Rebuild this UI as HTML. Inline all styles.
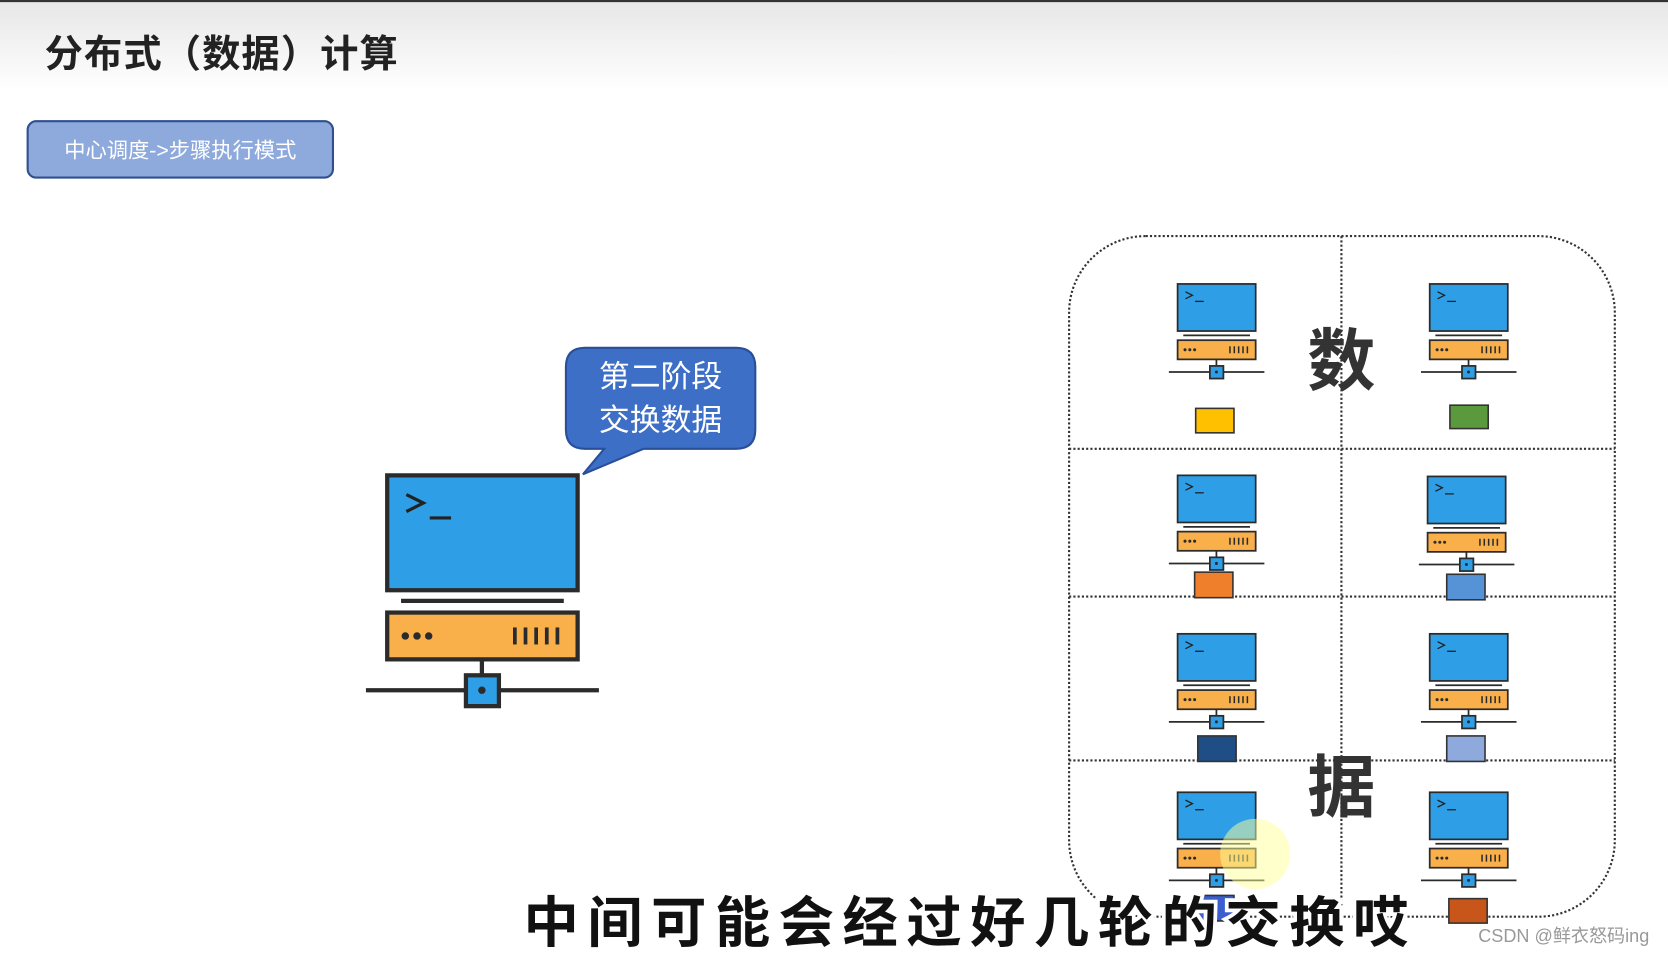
<!DOCTYPE html>
<html><head><meta charset="utf-8"><style>
html,body{margin:0;padding:0;background:#fff;}
svg{display:block;}
text{font-family:"Liberation Sans","Noto Sans CJK SC",sans-serif;}
</style></head><body>
<svg width="1668" height="955" viewBox="0 0 1568 898" preserveAspectRatio="none" xmlns="http://www.w3.org/2000/svg">
<defs>
<linearGradient id="hd" x1="0" y1="0" x2="0" y2="1">
<stop offset="0" stop-color="#e6e6e6"/><stop offset="1" stop-color="#ffffff"/>
</linearGradient>
<g id="pc">
<rect x="0" y="0" width="179" height="108" fill="#2e9fe6" stroke="#2b2b2b" stroke-width="4"/>
<polyline points="18,18 34,26 18,34" fill="none" stroke="#222" stroke-width="3"/>
<line x1="40" y1="40" x2="60" y2="40" stroke="#222" stroke-width="3"/>
<line x1="13" y1="118" x2="166" y2="118" stroke="#2b2b2b" stroke-width="4"/>
<rect x="0" y="129" width="179" height="44" fill="#f9b04b" stroke="#2b2b2b" stroke-width="4"/>
<circle cx="17" cy="151" r="3.5" fill="#2b2b2b"/><circle cx="28" cy="151" r="3.5" fill="#2b2b2b"/><circle cx="39" cy="151" r="3.5" fill="#2b2b2b"/>
<g stroke="#2b2b2b" stroke-width="3.5"><line x1="120" y1="143" x2="120" y2="159"/><line x1="130" y1="143" x2="130" y2="159"/><line x1="140" y1="143" x2="140" y2="159"/><line x1="150" y1="143" x2="150" y2="159"/><line x1="160" y1="143" x2="160" y2="159"/></g>
<line x1="89" y1="173" x2="89" y2="188" stroke="#2b2b2b" stroke-width="4"/>
<line x1="-20" y1="202" x2="199" y2="202" stroke="#2b2b2b" stroke-width="4"/>
<rect x="74" y="188" width="31" height="29" fill="#2e9fe6" stroke="#2b2b2b" stroke-width="4"/>
<circle cx="89" cy="202" r="3.5" fill="#2b2b2b"/>
</g>
</defs>
<rect x="0" y="0" width="1568" height="898" fill="#fff"/>
<rect x="0" y="0" width="1568" height="85" fill="url(#hd)"/>
<rect x="0" y="0" width="1568" height="2" fill="#333"/>
<text x="42" y="63" font-size="36" font-weight="bold" fill="#222" letter-spacing="1">分布式（数据）计算</text>
<rect x="26" y="114" width="287" height="53" rx="8" fill="#8eaadc" stroke="#2f4f8f" stroke-width="2"/>
<text x="169.5" y="148" font-size="20" fill="#fff" text-anchor="middle">中心调度-&gt;步骤执行模式</text>

<use href="#pc" transform="translate(364,447)"/>
<path d="M550,327 H692 Q710,327 710,345 V404 Q710,422 692,422 H605 L548,446 L568,422 H550 Q532,422 532,404 V345 Q532,327 550,327 Z" fill="#3d6fc7" stroke="#2a4f99" stroke-width="2"/>
<text x="621" y="364" font-size="29" fill="#fff" text-anchor="middle">第二阶段</text>
<text x="621" y="405" font-size="29" fill="#fff" text-anchor="middle">交换数据</text>

<rect x="1005" y="222" width="513" height="640" rx="72" fill="none" stroke="#333" stroke-width="2" stroke-dasharray="2,2"/>
<g stroke="#333" stroke-width="2" stroke-dasharray="2,2">
<line x1="1261" y1="222" x2="1261" y2="862"/>
<line x1="1005" y1="422" x2="1518" y2="422"/>
<line x1="1005" y1="561" x2="1518" y2="561"/>
<line x1="1005" y1="715" x2="1518" y2="715"/>
</g>
<use href="#pc" transform="translate(1107,267) scale(0.41)"/>
<use href="#pc" transform="translate(1344,267) scale(0.41)"/>
<use href="#pc" transform="translate(1107,447) scale(0.41)"/>
<use href="#pc" transform="translate(1342,448) scale(0.41)"/>
<use href="#pc" transform="translate(1107,596) scale(0.41)"/>
<use href="#pc" transform="translate(1344,596) scale(0.41)"/>
<use href="#pc" transform="translate(1107,745) scale(0.41)"/>
<use href="#pc" transform="translate(1344,745) scale(0.41)"/>
<g stroke="#333" stroke-width="1.5">
<rect x="1124" y="384" width="36" height="23" fill="#ffc000"/>
<rect x="1363" y="381" width="36" height="22" fill="#5a9a3c"/>
<rect x="1123" y="538" width="36" height="24" fill="#f07f2c"/>
<rect x="1360" y="540" width="36" height="24" fill="#5592d6"/>
<rect x="1126" y="692" width="36" height="24" fill="#1f4e86"/>
<rect x="1360" y="692" width="36" height="24" fill="#8eaadc"/>
<rect x="1126" y="842" width="34" height="24" fill="#3b5fcf"/>
<rect x="1362" y="845" width="36" height="23" fill="#c8561a"/>
</g>
<text x="1261" y="362" font-size="64" font-weight="bold" fill="#333" text-anchor="middle">数</text>
<text x="1261" y="763" font-size="64" font-weight="bold" fill="#333" text-anchor="middle">据</text>
<circle cx="1180" cy="803" r="33" fill="#ffff99" opacity="0.5"/>

<text x="912" y="886" font-size="52" font-weight="bold" fill="#111" stroke="#fff" stroke-width="7" paint-order="stroke" text-anchor="middle" letter-spacing="8">中间可能会经过好几轮的交换哎</text>
<text x="1470" y="886" font-size="17" fill="#999" stroke="#fff" stroke-width="2" paint-order="stroke" text-anchor="middle">CSDN @鲜衣怒码ing</text>
</svg>
</body></html>
